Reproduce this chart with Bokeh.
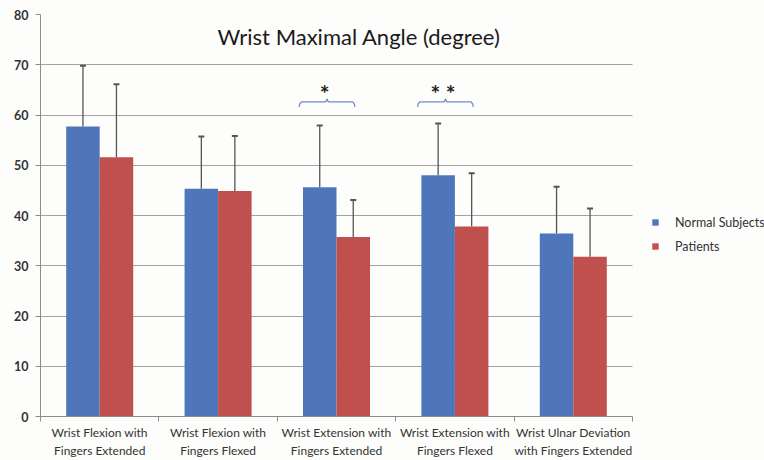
from bokeh.plotting import figure
from bokeh.models import (Range1d, FixedTicker, ColumnDataSource, Whisker, TeeHead,
                          Legend, LegendItem, Label)
from bokeh.embed import file_html
from bokeh.resources import INLINE

# --- data -----------------------------------------------------------------
categories = [
    "Wrist Flexion with\nFingers Extended",
    "Wrist Flexion with\nFingers Flexed",
    "Wrist Extension with\nFingers Extended",
    "Wrist Extension with\nFingers Flexed",
    "Wrist Ulnar Deviation\nwith Fingers Extended",
]
normal_mean = [57.7, 45.3, 45.6, 48.0, 36.4]
normal_sd = [12.1, 10.4, 12.3, 10.3, 9.3]
patient_mean = [51.6, 44.9, 35.7, 37.8, 31.8]
patient_sd = [14.5, 10.9, 7.4, 10.6, 9.6]
significance = ["", "", "*", "**", ""]
series_names = ["Normal Subjects", "Patients"]
y_ticks = [0, 10, 20, 30, 40, 50, 60, 70, 80]

FONT = "Lato"
TEXT = "#333333"
BLUE = "#4f76bb"
RED = "#c0504d"

n = len(categories)
centers = [i + 0.5 for i in range(n)]
bar_w = 0.283
off = bar_w / 2

# the frame runs to the right edge so the legend has room; axis and grid
# are bounded to the category span
W, H, LEFT, AXIS_END = 764, 460, 40, 632
x_end = n * (W - LEFT) / (AXIS_END - LEFT)

p = figure(width=W, height=H, output_backend="svg", toolbar_location=None,
           x_range=Range1d(0, x_end), y_range=Range1d(0, 80),
           min_border_left=LEFT, min_border_right=0, min_border_top=14,
           min_border_bottom=44)
p.outline_line_color = None
p.background_fill_color = "#fdfdfb"
p.border_fill_color = "#fdfdfb"

# grid
p.xgrid.grid_line_color = None
p.ygrid.grid_line_color = "#a3a3a3"
p.ygrid.grid_line_width = 1
p.ygrid.ticker = FixedTicker(ticks=y_ticks)
p.ygrid.cross_bounds = (0, n)

# y axis
p.yaxis.ticker = FixedTicker(ticks=y_ticks)
p.yaxis.axis_line_color = "#8c8c8c"
p.yaxis.major_tick_line_color = "#8c8c8c"
p.yaxis.major_tick_out = 5
p.yaxis.major_tick_in = 0
p.yaxis.minor_tick_line_color = None
p.yaxis.major_label_text_font = FONT
p.yaxis.major_label_text_font_size = "12.5px"
p.yaxis.major_label_text_font_style = "bold"
p.yaxis.major_label_text_color = TEXT
p.yaxis.major_label_standoff = 7

# x axis: labels at category centres, tick marks between categories
p.xaxis.bounds = (0, n)
p.xaxis.ticker = FixedTicker(ticks=centers, minor_ticks=list(range(n + 1)))
p.xaxis.major_label_overrides = {c: lab for c, lab in zip(centers, categories)}
p.xaxis.axis_line_color = "#8c8c8c"
p.xaxis.major_tick_line_color = None
p.xaxis.major_tick_out = 0
p.xaxis.major_tick_in = 0
p.xaxis.minor_tick_line_color = "#8c8c8c"
p.xaxis.minor_tick_out = 5
p.xaxis.minor_tick_in = 0
p.xaxis.major_label_text_font = FONT
p.xaxis.major_label_text_font_size = "12px"
p.xaxis.major_label_text_color = TEXT
p.xaxis.major_label_standoff = 3

# bars
src = ColumnDataSource(dict(
    xn=[c - off for c in centers], xp=[c + off for c in centers],
    n=normal_mean, pt=patient_mean,
    nu=[m + s for m, s in zip(normal_mean, normal_sd)],
    pu=[m + s for m, s in zip(patient_mean, patient_sd)],
))
rn = p.vbar(x="xn", top="n", width=bar_w, source=src, fill_color=BLUE, line_color=None)
rp = p.vbar(x="xp", top="pt", width=bar_w, source=src, fill_color=RED, line_color=None)

# upper error bars
for xcol, lo, hi in (("xn", "n", "nu"), ("xp", "pt", "pu")):
    w = Whisker(source=src, base=xcol, lower=lo, upper=hi,
                line_color="#555555", line_width=1.3,
                upper_head=TeeHead(size=6, line_color="#555555", line_width=2),
                lower_head=None)
    p.add_layout(w)

# significance braces
brace_y = 62.6
for c, mark in zip(centers, significance):
    if not mark:
        continue
    xc = c - 0.08
    hw = 0.235
    x0, x1 = xc - hw, xc + hw
    xs = [x0, x0 + 0.004, x0 + 0.018, xc - 0.012, xc, xc + 0.012, x1 - 0.018, x1 - 0.004, x1]
    ys = [brace_y - 1.0, brace_y - 0.45, brace_y, brace_y, brace_y + 0.6, brace_y,
          brace_y, brace_y - 0.45, brace_y - 1.0]
    p.line(xs, ys, line_color="#6f8cc6", line_width=1.3)
    p.add_layout(Label(x=xc - 0.02, y=brace_y - 1.0, text=" ".join(mark), text_align="center",
                       text_baseline="bottom", text_font=FONT, text_font_size="23px",
                       text_font_style="bold", text_color="#222222"))

# chart title inside the plot area
p.add_layout(Label(x=n / 2 + 0.19, y=75.6, text="Wrist Maximal Angle (degree)",
                   text_align="center", text_baseline="middle", text_font=FONT,
                   text_font_size="22px", text_color="#1a1a1a"))

legend = Legend(items=[LegendItem(label=series_names[0], renderers=[rn]),
                       LegendItem(label=series_names[1], renderers=[rp])],
                location=(611, 158), orientation="vertical",
                glyph_width=8, glyph_height=8, label_height=24,
                label_standoff=16, padding=0, margin=0, spacing=0,
                background_fill_alpha=0, border_line_color=None,
                label_text_font=FONT, label_text_font_size="12.5px",
                label_text_color=TEXT)
p.add_layout(legend)

open("out.html", "w").write(file_html(p, INLINE))
